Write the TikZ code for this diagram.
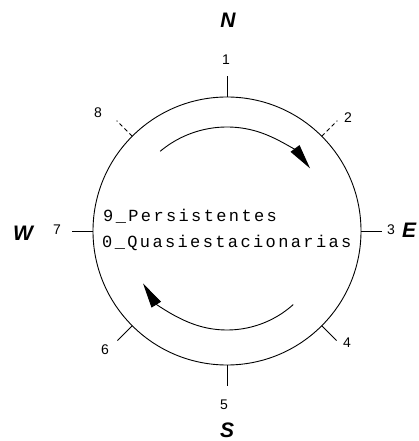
\documentclass[tikz,border=0pt]{standalone}
\usepackage{fontspec}
\setmainfont{Liberation Sans}
\newfontfamily\monof[LetterSpace=14]{Liberation Mono}
\usetikzlibrary{arrows.meta}
\begin{document}
\begin{tikzpicture}[x=1pt,y=1pt,
  ring/.style={line width=0.9pt},
  tickline/.style={line width=0.9pt},
  dtick/.style={line width=0.8pt, dash pattern=on 4pt off 3pt},
  flow/.style={line width=0.9pt, -{Triangle[length=25pt,width=11pt]}},
  num/.style={font=\fontsize{14}{14}\selectfont, inner sep=0pt},
  cardinal/.style={font=\fontsize{21}{21}\selectfont\bfseries\itshape, inner sep=0pt},
  txt/.style={font=\monof\fontsize{17}{17}\selectfont, inner sep=0pt, anchor=base west}
]
\useasboundingbox (0,0) rectangle (419,441);
\coordinate (c) at (227,210);
\draw[ring] (c) circle[radius=134];
\foreach \a in {90,0,-45,-90,-135,180}
  \draw[tickline,shift={(c)}] (\a:134) -- (\a:155);
\foreach \a in {45,135}
  \draw[dtick,shift={(c)}] (\a:134) -- (\a:156);
\draw[flow,shift={(c)}] (130:104) arc[start angle=130,end angle=37,radius=104];
\draw[flow,shift={(c)}] (-48:99) arc[start angle=-48,end angle=-148,radius=99];
\node[txt] (t1) at (103,219) {9\_Persistentes};
\node[txt] (t2) at (102,193) {0\_Quasiestacionarias};
\node[num] (n1) at (226,381.5) {1};
\node[num] (n2) at (348,323) {2};
\node[num] (n3) at (391,211) {3};
\node[num] (n4) at (347,98) {4};
\node[num] (n5) at (224,36) {5};
\node[num] (n6) at (105,91) {6};
\node[num] (n7) at (57,211) {7};
\node[num] (n8) at (98,328) {8};
\node[cardinal] (N) at (228,421) {N};
\node[cardinal] (W) at (23,208) {W};
\node[cardinal] (E) at (409,211) {E};
\node[cardinal] (S) at (227,11) {S};
\end{tikzpicture}
\end{document}
